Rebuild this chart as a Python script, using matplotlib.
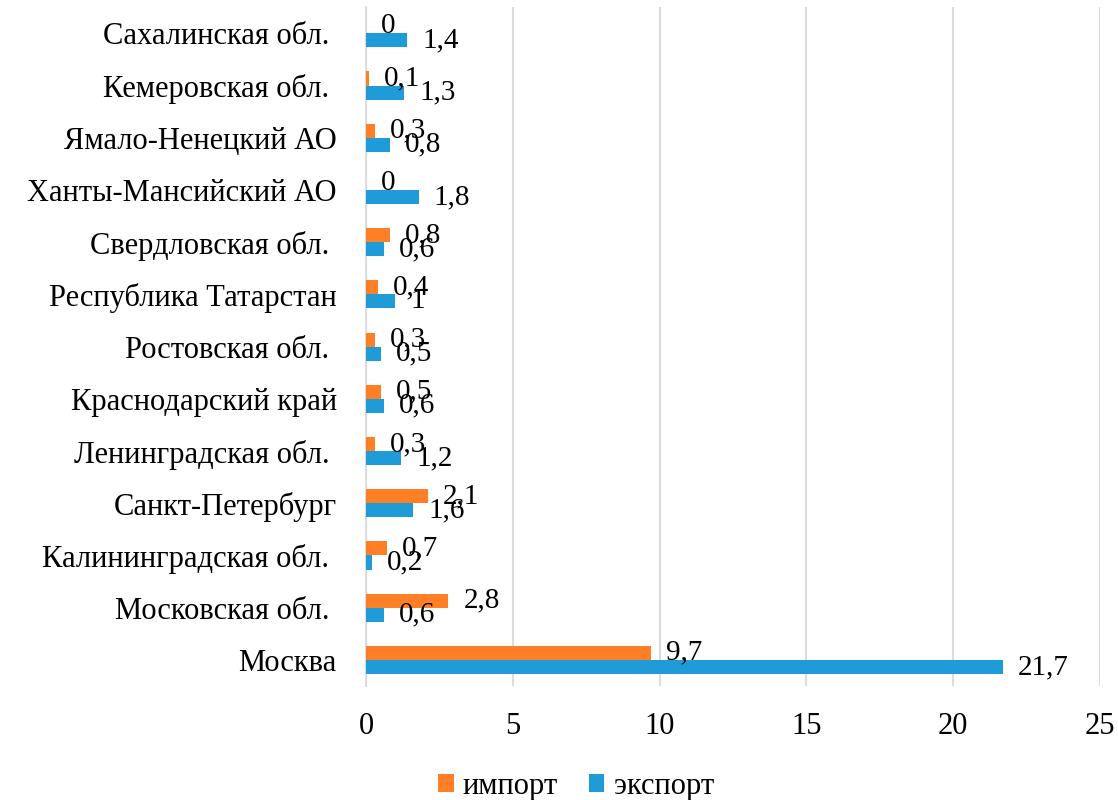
import matplotlib
matplotlib.use("Agg")
import matplotlib.pyplot as plt
import numpy as np

categories = ["Москва", "Московская обл. ", "Калининградская обл. ", "Санкт-Петербург",
              "Ленинградская обл. ", "Краснодарский край", "Ростовская обл. ",
              "Республика Татарстан", "Свердловская обл. ", "Ханты-Мансийский АО",
              "Ямало-Ненецкий АО", "Кемеровская обл. ", "Сахалинская обл. "]
import_vals = [9.7, 2.8, 0.7, 2.1, 0.3, 0.5, 0.3, 0.4, 0.8, 0, 0.3, 0.1, 0]
export_vals = [21.7, 0.6, 0.2, 1.6, 1.2, 0.6, 0.5, 1, 0.6, 1.8, 0.8, 1.3, 1.4]
xticks = [0, 5, 10, 15, 20, 25]

plt.rcParams['font.family'] = ['Liberation Serif', 'DejaVu Serif']

c_imp = '#FF7F27'
c_exp = '#1F9BD7'

fig = plt.figure(figsize=(11.18, 8), dpi=100)
ax = fig.add_axes([0.3274, 0.1425, 0.984 - 0.3274, 0.991 - 0.1425])

y = np.arange(len(categories))
h = 0.27
off = 0.135
ax.barh(y + off, import_vals, height=h, color=c_imp, label='импорт', zorder=3)
ax.barh(y - off, export_vals, height=h, color=c_exp, label='экспорт', zorder=3)

def fmt(v):
    return ('%g' % v).replace('.', ',')

lab_fs = 21
for yi, v in zip(y, import_vals):
    ax.annotate(fmt(v), (v, yi + off), xytext=(15, 0), textcoords='offset pixels',
                ha='left', va='center', fontsize=lab_fs, zorder=4)
for yi, v in zip(y, export_vals):
    ax.annotate(fmt(v), (v, yi - off), xytext=(15, 0), textcoords='offset pixels',
                ha='left', va='center', fontsize=lab_fs, zorder=4)

ax.set_xlim(0, 25)
ax.set_ylim(-0.5, len(categories) - 0.5)
ax.set_xticks(xticks)
ax.set_xticklabels([str(t) for t in xticks], fontsize=22)
ax.set_yticks(y)
ax.set_yticklabels(categories, fontsize=22)
ax.tick_params(axis='both', length=0)
ax.tick_params(axis='y', pad=21)
ax.tick_params(axis='x', pad=19)
ax.grid(axis='x', color='#DCDCDC', linewidth=1.5, zorder=0)
for s in ['top', 'right', 'bottom']:
    ax.spines[s].set_visible(False)
ax.spines['left'].set_color('#DCDCDC')
ax.spines['left'].set_linewidth(1.5)

fig.legend(loc='center', bbox_to_anchor=(0.515, 0.017), ncol=2, frameon=False,
           fontsize=22, handlelength=0.52, handleheight=0.52, handletextpad=0.3,
           columnspacing=1.0, borderpad=0.2)

fig.savefig('out.png', dpi=100)
